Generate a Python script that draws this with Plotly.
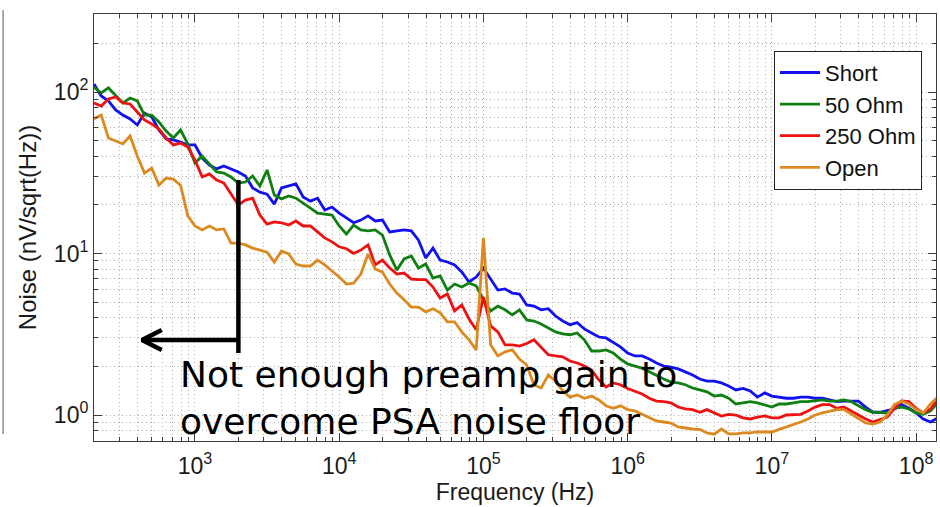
import plotly.graph_objects as go

# Frequency grid of the noise spectra (Hz), 20 points per decade
FREQ_HZ = [
    199.5, 223.9, 251.2, 281.8, 316.2, 354.8, 398.1, 446.7, 501.2, 562.3, 631.0, 707.9, 794.3, 891.3,
    1000, 1122, 1259, 1413, 1585, 1778, 1995, 2239, 2512, 2818, 3162, 3548, 3981, 4467, 5012, 5623, 6310, 7079, 7943, 8913,
    1.000e4, 1.122e4, 1.259e4, 1.413e4, 1.585e4, 1.778e4, 1.995e4, 2.239e4, 2.512e4, 2.818e4,
    3.162e4, 3.548e4, 3.981e4, 4.467e4, 5.012e4, 5.623e4, 6.310e4, 7.079e4, 7.943e4, 8.913e4,
    1.000e5, 1.122e5, 1.259e5, 1.413e5, 1.585e5, 1.778e5, 1.995e5, 2.239e5, 2.512e5, 2.818e5,
    3.162e5, 3.548e5, 3.981e5, 4.467e5, 5.012e5, 5.623e5, 6.310e5, 7.079e5, 7.943e5, 8.913e5,
    1.000e6, 1.122e6, 1.259e6, 1.413e6, 1.585e6, 1.778e6, 1.995e6, 2.239e6, 2.512e6, 2.818e6,
    3.162e6, 3.548e6, 3.981e6, 4.467e6, 5.012e6, 5.623e6, 6.310e6, 7.079e6, 7.943e6, 8.913e6,
    1.000e7, 1.122e7, 1.259e7, 1.413e7, 1.585e7, 1.778e7, 1.995e7, 2.239e7, 2.512e7, 2.818e7,
    3.162e7, 3.548e7, 3.981e7, 4.467e7, 5.012e7, 5.623e7, 6.310e7, 7.079e7, 7.943e7, 8.913e7,
    1.000e8, 1.122e8, 1.259e8, 1.413e8,
]

# Input-referred noise density (nV/sqrt(Hz)) for each source termination
NOISE_SHORT = [
    112, 94.5, 88.0, 77.4, 72.0, 68.1, 62.5, 74.1, 70.0, 58.2,
    51.2, 50.5, 49.0, 47.0, 47.0, 39.0, 35.3, 33.4, 34.8, 33.4,
    32.0, 30.2, 25.5, 24.0, 23.3, 20.2, 25.5, 26.2, 27.0, 22.4,
    21.1, 22.0, 18.6, 19.4, 17.8, 16.6, 15.5, 16.1, 17.1, 15.9,
    16.1, 13.6, 13.8, 14.0, 13.8, 12.1, 9.38, 10.8, 9.10, 8.86,
    8.50, 7.68, 6.66, 7.15, 8.13, 6.95, 5.94, 6.03, 5.69, 5.61,
    4.80, 4.73, 4.48, 4.55, 4.10, 3.82, 3.62, 3.73, 3.41, 3.22,
    3.04, 3.00, 2.83, 2.64, 2.42, 2.32, 2.32, 2.22, 2.10, 2.01,
    1.98, 1.93, 1.85, 1.77, 1.67, 1.62, 1.62, 1.58, 1.51, 1.43,
    1.46, 1.41, 1.29, 1.37, 1.31, 1.29, 1.27, 1.27, 1.29, 1.29,
    1.27, 1.27, 1.24, 1.21, 1.22, 1.22, 1.22, 1.12, 1.04, 1.04,
    1.06, 1.09, 1.16, 1.10, 1.03, 0.945, 0.905, 0.96,
]
NOISE_50_OHM = [
    107, 98.6, 106, 95.8, 85.5, 91.8, 88.0, 72.0, 72.0, 65.2,
    57.3, 51.9, 58.2, 47.7, 36.3, 40.1, 35.8, 32.0, 31.5, 29.8,
    27.3, 27.7, 30.2, 26.2, 32.9, 23.0, 21.8, 22.7, 22.0, 20.6,
    19.1, 17.8, 17.6, 17.3, 14.8, 13.2, 15.0, 14.0, 13.8, 14.0,
    13.0, 9.80, 7.90, 9.25, 9.65, 8.13, 8.61, 7.05, 7.26, 5.94,
    6.47, 6.20, 6.56, 6.30, 5.17, 4.41, 4.73, 4.48, 4.17, 4.48,
    3.88, 3.82, 3.66, 3.46, 3.27, 3.18, 3.14, 3.22, 2.92, 2.49,
    2.49, 2.53, 2.42, 2.22, 2.07, 2.01, 1.95, 1.85, 1.75, 1.67,
    1.60, 1.58, 1.54, 1.47, 1.43, 1.39, 1.31, 1.33, 1.27, 1.17,
    1.19, 1.21, 1.19, 1.16, 1.12, 1.17, 1.17, 1.19, 1.21, 1.21,
    1.22, 1.24, 1.22, 1.22, 1.24, 1.21, 1.14, 1.08, 1.04, 1.03,
    1.03, 1.10, 1.12, 1.09, 1.03, 1.01, 1.06, 1.19,
]
NOISE_250_OHM = [
    85.5, 81.9, 90.5, 93.1, 85.5, 84.3, 75.2, 67.1, 63.4, 59.0,
    51.9, 47.0, 48.3, 45.6, 37.9, 29.8, 31.1, 28.5, 27.3, 23.3,
    20.0, 21.4, 22.0, 17.3, 15.2, 15.7, 15.5, 15.0, 15.9, 14.8,
    14.8, 13.6, 12.5, 11.8, 11.0, 10.7, 10.0, 10.5, 11.3, 8.50,
    9.10, 8.13, 7.46, 7.57, 6.95, 6.90, 6.90, 6.20, 5.30, 5.61,
    4.41, 4.80, 3.93, 3.37, 5.38, 3.56, 3.27, 2.72, 2.72, 2.67,
    2.77, 2.92, 2.64, 2.36, 2.32, 2.29, 2.16, 2.10, 2.01, 1.90,
    1.65, 1.49, 1.58, 1.54, 1.46, 1.41, 1.35, 1.27, 1.22, 1.21,
    1.19, 1.12, 1.09, 1.08, 1.04, 1.08, 1.03, 0.986, 1.01, 1.00,
    0.960, 0.945, 0.970, 0.986, 0.960, 0.960, 1.00, 1.01, 1.01, 1.06,
    1.12, 1.16, 1.16, 1.10, 1.12, 1.06, 1.00, 0.945, 0.905, 0.940,
    0.970, 1.10, 1.22, 1.21, 1.10, 1.03, 1.09, 1.26,
]
NOISE_OPEN = [
    68.1, 72.0, 51.9, 49.7, 47.7, 53.4, 40.1, 31.5, 33.8, 26.5,
    29.3, 28.9, 26.5, 17.1, 14.8, 14.0, 14.8, 14.0, 14.2, 11.6,
    11.6, 11.3, 10.8, 10.5, 10.2, 8.86, 10.35, 9.93, 8.61, 8.37,
    8.37, 9.10, 8.50, 7.79, 7.15, 6.47, 6.56, 7.46, 9.93, 8.01,
    7.68, 6.47, 5.69, 5.17, 4.66, 4.66, 4.35, 4.55, 4.29, 3.77,
    3.77, 3.27, 2.92, 2.53, 12.5, 2.72, 2.32, 2.46, 2.53, 2.22,
    2.04, 1.54, 1.47, 1.77, 1.62, 1.41, 1.29, 1.33, 1.27, 1.31,
    1.24, 1.14, 1.10, 1.14, 1.08, 1.06, 1.01, 0.960, 0.918, 0.905,
    0.892, 0.843, 0.830, 0.819, 0.815, 0.774, 0.760, 0.819, 0.764, 0.764,
    0.774, 0.774, 0.785, 0.785, 0.785, 0.815, 0.843, 0.875, 0.905, 0.945,
    1.00, 1.03, 1.06, 1.08, 1.08, 1.01, 0.945, 0.892, 0.878, 0.905,
    1.00, 1.16, 1.22, 1.17, 1.08, 1.03, 1.17, 1.29,
]

SERIES_NAMES = ["Short", "50 Ohm", "250 Ohm", "Open"]
SERIES_COLORS = ["#1010f0", "#0f7f12", "#ee1111", "#dc8a20"]

# Axis decades
X_DECADES = [3, 4, 5, 6, 7, 8]
Y_DECADES = [0, 1, 2]

# Callout: below ~2 kHz the preamp gain is too low; arrow points to lower frequencies
PSA_LIMIT_HZ = 2000
CALLOUT_NOISE_TOP = 28.5
CALLOUT_NOISE_BOTTOM = 2.42
ARROW_NOISE = 2.91
ARROW_TIP_HZ = 429
ARROW_BARB_HZ = 588
ARROW_BARB_NOISE = [3.36, 2.53]
CALLOUT_TEXT = "Not enough preamp gain to<br>overcome PSA noise floor"

FONT = "Liberation Sans, Arial, Helvetica, sans-serif"
AXIS_COLOR = "#3c3c3c"
GRID_COLOR = "#b0b0b0"
GRID_DASH = "1px,3px"

fig = go.Figure()
for name, color, vals in zip(SERIES_NAMES, SERIES_COLORS,
                             [NOISE_SHORT, NOISE_50_OHM, NOISE_250_OHM, NOISE_OPEN]):
    fig.add_trace(go.Scatter(x=FREQ_HZ, y=vals, mode="lines", name=name,
                             line=dict(color=color, width=2.8)))

# Callout bracket and arrow
callout_style = dict(mode="lines", showlegend=False, hoverinfo="skip",
                     line=dict(color="black", width=4.5))
fig.add_trace(go.Scatter(x=[PSA_LIMIT_HZ, PSA_LIMIT_HZ],
                         y=[CALLOUT_NOISE_TOP, CALLOUT_NOISE_BOTTOM], **callout_style))
fig.add_trace(go.Scatter(x=[PSA_LIMIT_HZ, ARROW_TIP_HZ],
                         y=[ARROW_NOISE, ARROW_NOISE], **callout_style))
fig.add_trace(go.Scatter(x=[ARROW_BARB_HZ, ARROW_TIP_HZ, ARROW_BARB_HZ],
                         y=[ARROW_BARB_NOISE[0], ARROW_NOISE, ARROW_BARB_NOISE[1]],
                         **callout_style))


def minor_vals(decades):
    return [m * 10 ** d for d in decades for m in range(2, 10)]


axis_common = dict(
    type="log",
    showline=True, linecolor=AXIS_COLOR, linewidth=1,
    mirror="allticks",
    ticks="inside", ticklen=8, tickwidth=1, tickcolor=AXIS_COLOR,
    showgrid=True, gridcolor=GRID_COLOR, griddash=GRID_DASH, gridwidth=1,
    zeroline=False,
    tickfont=dict(family=FONT, size=23, color="#1a1a1a"),
)
minor_common = dict(ticks="inside", ticklen=4, tickcolor=AXIS_COLOR, showgrid=True,
                    gridcolor=GRID_COLOR, griddash=GRID_DASH, gridwidth=1)

fig.update_layout(
    width=940, height=507,
    margin=dict(l=94, r=4, t=14, b=66),
    paper_bgcolor="white", plot_bgcolor="white",
    font=dict(family=FONT, color="#1a1a1a"),
    xaxis=dict(
        **axis_common,
        range=[2.2999, 8.138],
        tickmode="array",
        tickvals=[10 ** d for d in X_DECADES],
        ticktext=[f"10<sup>{d}</sup>" for d in X_DECADES],
        ticklabelstandoff=4,
        minor=dict(tickvals=minor_vals([2, 3, 4, 5, 6, 7, 8]), **minor_common),
        title=dict(text="Frequency (Hz)", font=dict(family=FONT, size=23), standoff=5),
    ),
    yaxis=dict(
        **axis_common,
        range=[-0.161, 2.483],
        tickmode="array",
        tickvals=[10 ** d for d in Y_DECADES],
        ticktext=[f"10<sup>{d}</sup>" for d in Y_DECADES],
        minor=dict(tickvals=[0.7, 0.8, 0.9] + minor_vals([0, 1]) + [200, 300], **minor_common),
        title=dict(text="Noise (nV/sqrt(Hz))", font=dict(family=FONT, size=24), standoff=10),
    ),
    legend=dict(
        x=0.8076, y=0.914, xanchor="left", yanchor="top",
        bgcolor="white", bordercolor="#222", borderwidth=1,
        font=dict(family=FONT, size=22, color="#111"),
        itemwidth=40, tracegroupgap=0,
    ),
    showlegend=True,
    annotations=[dict(
        text=CALLOUT_TEXT, xref="paper", yref="paper",
        x=0.1, y=0.1, xanchor="left", yanchor="middle",
        align="left", showarrow=False,
        font=dict(family="DejaVu Sans, Verdana, sans-serif", size=36, color="black"),
    )],
    shapes=[
        # edge of the neighbouring panel at the far left
        dict(type="line", xref="paper", yref="paper", x0=-0.108, x1=-0.108,
             y0=1.009, y1=0.0164, line=dict(color="#555", width=1)),
    ],
)

fig.write_html("out.html")
